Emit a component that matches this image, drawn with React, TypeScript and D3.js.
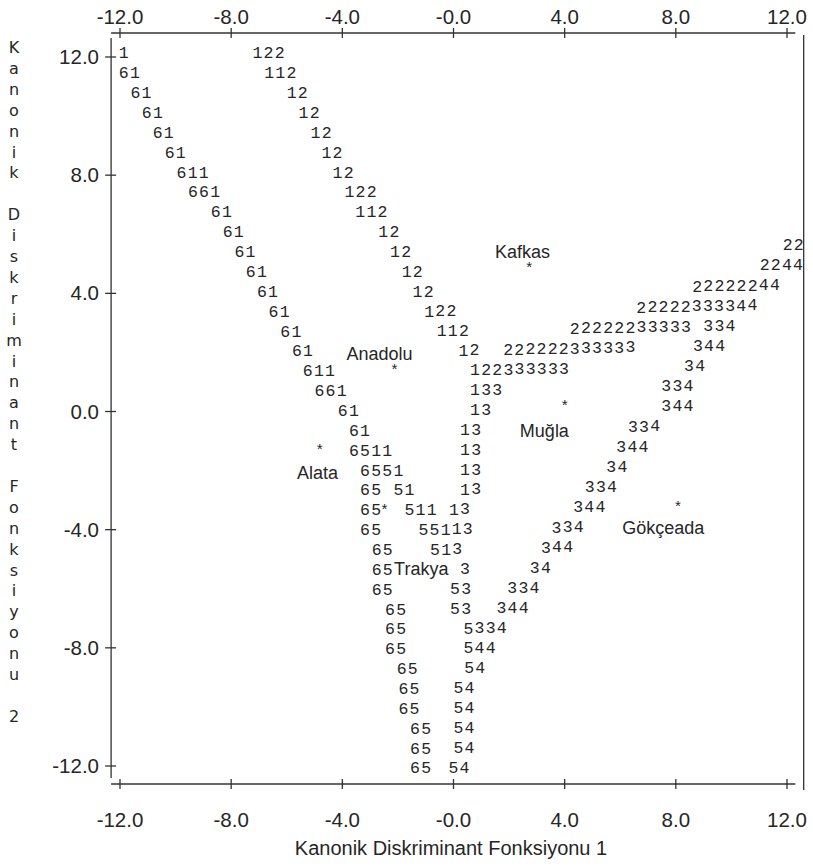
import React from "react"
import * as d3 from "d3"

// group centroids (canonical discriminant functions 1 and 2)
const groups = ["Kafkas", "Anadolu", "Muğla", "Alata", "Gökçeada", "Trakya"]
const centroidX = [2.73, -2.12, 4.0, -4.81, 8.08, -2.48]
const centroidY = [4.96, 1.52, 0.29, -1.2, -3.1, -3.23]
const labelX = [2.48, -2.66, 3.27, -4.89, 7.55, -1.16]
const labelY = [5.43, 1.98, -0.63, -2.05, -3.91, -5.3]

const xTicks = [-12, -8, -4, 0, 4, 8, 12]
const xTickLabels = ["-12.0", "-8.0", "-4.0", "-0.0", "4.0", "8.0", "12.0"]
const yTicks = [12, 8, 4, 0, -4, -8, -12]
const yTickLabels = ["12.0", "8.0", "4.0", "0.0", "-4.0", "-8.0", "-12.0"]

const xTitle = "Kanonik Diskriminant Fonksiyonu 1"
const yTitle = "Kanonik Diskriminant Fonksiyonu 2"

// territorial map: [row, start (function 1 value), boundary symbols]
const ROW_TOP = 12.14
const ROW_STEP = 0.6723
const COL_STEP = 0.4
const territory: [number, number, string][] = [
  [0, -12.0, "1"], [0, -7.19, "122"],
  [1, -12.0, "61"], [1, -6.77, "112"],
  [2, -11.58, "61"], [2, -5.96, "12"],
  [3, -11.17, "61"], [3, -5.53, "12"],
  [4, -10.78, "61"], [4, -5.1, "12"],
  [5, -10.35, "61"], [5, -4.71, "12"],
  [6, -9.92, "611"], [6, -4.31, "12"],
  [7, -9.51, "661"], [7, -3.88, "122"],
  [8, -8.69, "61"], [8, -3.49, "112"],
  [9, -8.26, "61"], [9, -2.66, "12"],
  [10, -7.84, "61"], [10, -2.24, "12"], [10, 11.89, "22"],
  [11, -7.43, "61"], [11, -1.82, "12"], [11, 11.06, "2244"],
  [12, -7.03, "61"], [12, -1.43, "12"], [12, 8.63, "22222244"],
  [13, -6.61, "61"], [13, -1.01, "122"], [13, 6.62, "22222333344"],
  [14, -6.19, "61"], [14, -0.56, "112"], [14, 4.23, "22222233333 334"],
  [15, -5.77, "61"], [15, 0.22, "12"], [15, 1.83, "222222333333"], [15, 8.66, "344"],
  [16, -5.38, "611"], [16, 0.64, "122333333"], [16, 8.34, "34"],
  [17, -4.96, "661"], [17, 0.64, "133"], [17, 7.52, "334"],
  [18, -4.12, "61"], [18, 0.64, "13"], [18, 7.52, "344"],
  [19, -3.72, "61"], [19, 0.28, "13"], [19, 6.32, "334"],
  [20, -3.72, "6511"], [20, 0.28, "13"], [20, 5.9, "344"],
  [21, -3.32, "6551"], [21, 0.28, "13"], [21, 5.54, "34"],
  [22, -3.32, "65 51"], [22, 0.28, "13"], [22, 4.77, "334"],
  [23, -3.32, "65  511 13"], [23, 4.35, "344"],
  [24, -3.32, "65"], [24, -1.22, "55113"], [24, 3.57, "334"],
  [25, -2.9, "65"], [25, -0.8, "513"], [25, 3.19, "344"],
  [26, -2.9, "65"], [26, 0.28, "3"], [26, 2.79, "34"],
  [27, -2.9, "65"], [27, -0.08, "53"], [27, 1.98, "334"],
  [28, -2.42, "65"], [28, -0.08, "53"], [28, 1.59, "344"],
  [29, -2.42, "65"], [29, 0.4, "5334"],
  [30, -2.42, "65"], [30, 0.4, "544"],
  [31, -2.0, "65"], [31, 0.43, "54"],
  [32, -1.94, "65"], [32, 0.04, "54"],
  [33, -1.94, "65"], [33, 0.04, "54"],
  [34, -1.52, "65"], [34, 0.04, "54"],
  [35, -1.52, "65"], [35, 0.04, "54"],
  [36, -1.52, "65"], [36, -0.14, "54"],
]

const W = 813
const H = 867
const ink = "#262626"
const sans = "'Liberation Sans', Arial, sans-serif"
const mono = "'Liberation Mono', 'Courier New', monospace"

export default function App() {
  const x = d3.scaleLinear().domain([-12, 12]).range([120, 787])
  const y = d3.scaleLinear().domain([-12, 12]).range([766, 57])
  const colW = x(COL_STEP) - x(0)
  const rowY = (r: number) => y(ROW_TOP - r * ROW_STEP)
  // the scanned map leans slightly upward on the right
  const lean = (px: number) => -0.019 * Math.max(0, px - 420)

  const left = x(-12.32)
  const right = x(12.6)
  const top = 33
  const bottom = 784

  const chars = territory.flatMap(([r, x0, t], i) =>
    t.split("").map((ch, k) => {
      const px = x(x0) + k * colW
      return { key: i + "-" + k, ch, px, py: rowY(r) + lean(px) }
    }).filter(c => c.ch !== " ")
  )

  return (
    <svg width={W} height={H} style={{ position: "absolute", left: 0, top: 0, background: "#fff" }}>
      <g stroke="#333" strokeWidth={1.3} fill="none">
        <line x1={left} x2={x(12.3)} y1={top} y2={top} />
        <line x1={left} x2={x(12.3)} y1={bottom} y2={bottom} />
        <line x1={left} x2={left} y1={top + 5} y2={bottom - 6} />
        <line x1={right} x2={right} y1={top + 2} y2={bottom + 6} />
        {xTicks.map(t => (
          <g key={"xt" + t}>
            <line x1={x(t)} x2={x(t)} y1={top - 5} y2={top + 5} />
            <line x1={x(t)} x2={x(t)} y1={bottom - 5} y2={bottom + 5} />
          </g>
        ))}
        {yTicks.map(t => (
          <line key={"yt" + t} x1={left - 6} x2={left + 5} y1={y(t)} y2={y(t)} />
        ))}
      </g>

      <g fontFamily={sans} fontSize={20.5} fill={ink} textAnchor="middle">
        {xTicks.map((t, i) => (
          <g key={"xl" + t}>
            <text x={x(t)} y={24}>{xTickLabels[i]}</text>
            <text x={x(t)} y={827}>{xTickLabels[i]}</text>
          </g>
        ))}
        {yTicks.map((t, i) => (
          <text key={"yl" + t} x={99} y={y(t) + 7} textAnchor="end">{yTickLabels[i]}</text>
        ))}
        <text x={451} y={855} fontSize={20}>{xTitle}</text>
      </g>

      <g fontFamily="'DejaVu Sans', sans-serif" fontSize={16} fill={ink} textAnchor="middle">
        {yTitle.split("").map((ch, i) => (
          <text key={"yc" + i} x={14} y={47 + i * 20.9 + 6}>{ch}</text>
        ))}
      </g>

      <g fontFamily={mono} fontSize={16.5} fill={ink}>
        {chars.map(c => (
          <text key={c.key} x={c.px - 1.2} y={c.py + 5.6}>{c.ch}</text>
        ))}
      </g>

      <g fill={ink} textAnchor="middle">
        {groups.map((g, i) => (
          <g key={g}>
            <text x={x(centroidX[i])} y={y(centroidY[i]) + 8.5} fontFamily={mono} fontSize={15}>*</text>
            <text x={x(labelX[i])} y={y(labelY[i]) + 6.5} fontFamily={sans} fontSize={18}>{g}</text>
          </g>
        ))}
      </g>
    </svg>
  )
}
